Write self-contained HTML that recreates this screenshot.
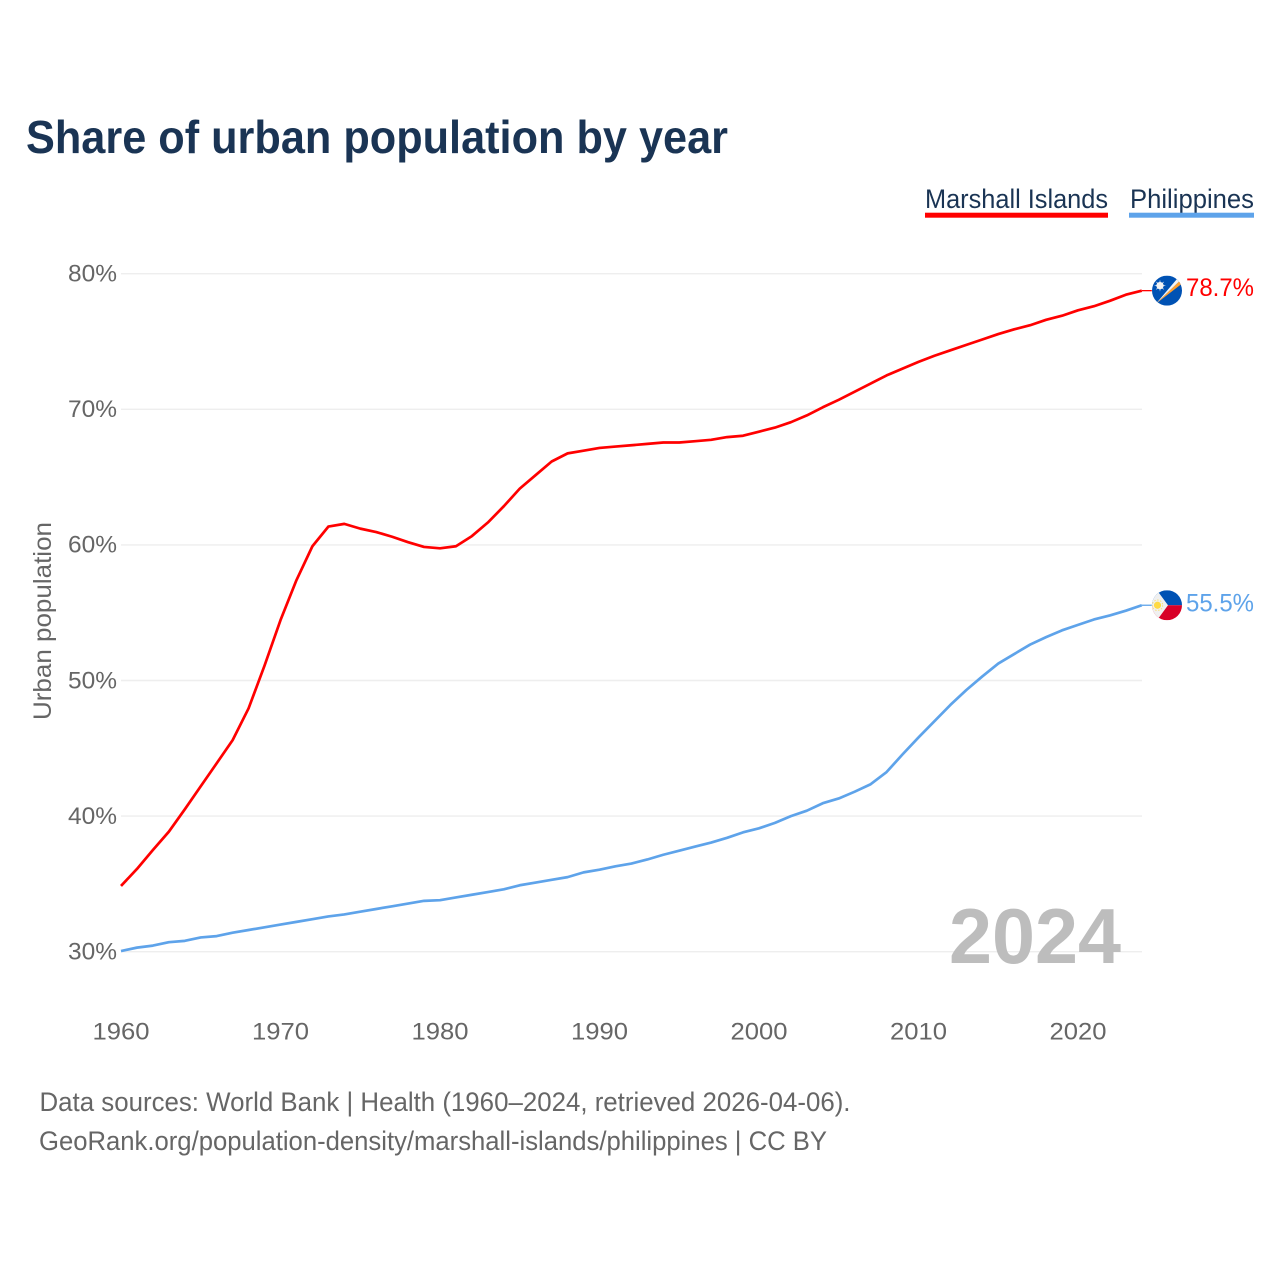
<!DOCTYPE html>
<html lang="en">
<head>
<meta charset="utf-8">
<title>Share of urban population by year</title>
<style>
html,body{margin:0;padding:0;background:#fff;}
svg{display:block;font-family:"Liberation Sans",sans-serif;}
</style>
</head>
<body>
<svg id="chart" xmlns="http://www.w3.org/2000/svg" width="1280" height="1280" viewBox="0 0 1280 1280">
  <defs>
    <clipPath id="flag-clip-a"><circle cx="0" cy="0" r="15"/></clipPath>
  </defs>
  <rect x="0" y="0" width="1280" height="1280" fill="#ffffff"/>
  <text x="26" y="153" font-size="46" font-weight="700" fill="#1a3454" textLength="702" lengthAdjust="spacingAndGlyphs">Share of urban population by year</text>

  <g>
    <g>
      <text x="925" y="208" font-size="27" fill="#1a3454" textLength="183" lengthAdjust="spacingAndGlyphs">Marshall Islands</text>
      <rect x="925" y="212.7" width="183" height="5" fill="#ff0000"/>
    </g>
    <g>
      <text x="1130" y="208" font-size="27" fill="#1a3454" textLength="124" lengthAdjust="spacingAndGlyphs">Philippines</text>
      <rect x="1129" y="212.7" width="125" height="5" fill="#5ea3ea"/>
    </g>
  </g>

  <g id="grid"></g>
  <g id="yticks"></g>
  <g id="xticks"></g>

  <text transform="translate(51 720) rotate(-90)" x="0" y="0" font-size="25" fill="#666666" textLength="198" lengthAdjust="spacingAndGlyphs">Urban population</text>

  <text x="949" y="963" font-size="78" font-weight="700" fill="#bdbdbd" textLength="172" lengthAdjust="spacingAndGlyphs">2024</text>

  <g id="series"></g>

  <g id="flag-mh">
    <g clip-path="url(#flag-clip-a)">
      <rect x="-15" y="-15" width="30" height="30" fill="#0052b4"/>
      <polygon points="-11,13 15,-12 15,-7" fill="#ffa030"/>
      <polygon points="-11,13 12,-14 15,-12" fill="#f4f4f4"/>
      <g fill="#f4f4f4" transform="translate(-7 -5)">
        <circle r="3.6"/>
        <polygon points="0,-6 1.2,0 -1.2,0"/>
        <polygon points="0,6 1.2,0 -1.2,0"/>
        <polygon points="-6,0 0,1.2 0,-1.2"/>
        <polygon points="6,0 0,1.2 0,-1.2"/>
        <polygon points="-4.2,-4.2 0.9,-0.9 -0.9,0.9"/>
        <polygon points="4.2,-4.2 0.9,0.9 -0.9,-0.9"/>
        <polygon points="-4.2,4.2 0.9,0.9 -0.9,-0.9"/>
        <polygon points="4.2,4.2 0.9,-0.9 -0.9,0.9"/>
      </g>
    </g>
  </g>
  <g id="flag-ph">
    <g clip-path="url(#flag-clip-a)">
      <rect x="-15" y="-15" width="30" height="15" fill="#0052b4"/>
      <rect x="-15" y="0" width="30" height="15" fill="#d80027"/>
      <polygon points="-15,-15 -10,-15 1,0 -10,15 -15,15" fill="#f0f0f0"/>
      <circle cx="-9.5" cy="0" r="3.6" fill="#ffda44"/>
      <circle cx="-9.5" cy="0" r="5.2" fill="none" stroke="#ffda44" stroke-width="1" stroke-dasharray="1.5 1.5" opacity="0.7"/>
    </g>
  </g>

  <text id="value-mh" x="1186" font-size="25" fill="#ff0000" textLength="68" lengthAdjust="spacingAndGlyphs">78.7%</text>
  <text id="value-ph" x="1186" font-size="25" fill="#5ea3ea" textLength="68" lengthAdjust="spacingAndGlyphs">55.5%</text>

  <text x="39.5" y="1111" font-size="27" fill="#666666" textLength="811" lengthAdjust="spacingAndGlyphs">Data sources: World Bank | Health (1960–2024, retrieved 2026-04-06).</text>
  <text x="39" y="1150" font-size="27" fill="#666666" textLength="788" lengthAdjust="spacingAndGlyphs">GeoRank.org/population-density/marshall-islands/philippines | CC BY</text>
</svg>
<script>
var firstYear = 1960;
var xTickYears = [1960, 1970, 1980, 1990, 2000, 2010, 2020];
var yTickValues = [30, 40, 50, 60, 70, 80];
var marshallIslands = [
  34.85, 36.1, 37.5, 38.85, 40.5, 42.2, 43.9, 45.6, 47.95, 51.1,
  54.45, 57.4, 59.9, 61.35, 61.55, 61.2, 60.95, 60.6, 60.2, 59.85,
  59.75, 59.9, 60.65, 61.65, 62.85, 64.15, 65.15, 66.15, 66.75, 66.95,
  67.15, 67.25, 67.35, 67.45, 67.55, 67.55, 67.65, 67.75, 67.95, 68.05,
  68.35, 68.65, 69.05, 69.55, 70.15, 70.7, 71.3, 71.9, 72.5, 73.0,
  73.5, 73.95, 74.35, 74.75, 75.15, 75.55, 75.9, 76.2, 76.6, 76.9,
  77.3, 77.6, 78.0, 78.45, 78.75
];
var philippines = [
  30.05, 30.3, 30.45, 30.7, 30.8, 31.05, 31.15, 31.4, 31.6, 31.8,
  32.0, 32.2, 32.4, 32.6, 32.75, 32.95, 33.15, 33.35, 33.55, 33.75,
  33.8, 34.0, 34.2, 34.4, 34.6, 34.9, 35.1, 35.3, 35.5, 35.85,
  36.05, 36.3, 36.5, 36.8, 37.15, 37.45, 37.75, 38.05, 38.4, 38.8,
  39.1, 39.5, 40.0, 40.4, 40.95, 41.3, 41.8, 42.35, 43.25, 44.55,
  45.8, 47.0, 48.2, 49.3, 50.3, 51.25, 51.95, 52.65, 53.2, 53.7,
  54.1, 54.5, 54.8, 55.15, 55.55
];

var NS = 'http://www.w3.org/2000/svg';
function xScale(year) { return 121 + (year - 1960) * 15.95; }
function yScale(value) { return 951.7 - (value - 30) * 13.56; }
function make(tag, attrs, parent, text) {
  var el = document.createElementNS(NS, tag);
  for (var k in attrs) { el.setAttribute(k, attrs[k]); }
  if (text !== undefined) { el.textContent = text; }
  parent.appendChild(el);
  return el;
}
var gridGroup = document.getElementById('grid');
var yTickGroup = document.getElementById('yticks');
var xTickGroup = document.getElementById('xticks');
var seriesGroup = document.getElementById('series');

yTickValues.forEach(function (v) {
  var line = make('line', {x1: 121, x2: 1142, y1: yScale(v), y2: yScale(v), stroke: '#eeeeee', 'stroke-width': 1.4}, gridGroup);
  
  
  var label = make('text', {x: 117, y: yScale(v) + 7.8, 'text-anchor': 'end', 'font-size': 24, fill: '#666666', textLength: 49, lengthAdjust: 'spacingAndGlyphs'}, yTickGroup, v + '%');
  
  
});

xTickYears.forEach(function (yr) {
  var label = make('text', {x: xScale(yr), y: 1039.5, 'text-anchor': 'middle', 'font-size': 24, fill: '#666666', textLength: 57, lengthAdjust: 'spacingAndGlyphs'}, xTickGroup, String(yr));
  
  
});

function pathFor(values) {
  return values.map(function (v, i) {
    return (i ? 'L' : 'M') + xScale(firstYear + i).toFixed(2) + ' ' + yScale(v).toFixed(2);
  }).join(' ');
}
function drawSeries(values, color, name, flagId, labelId, labelOffset) {
  var lastX = xScale(firstYear + values.length - 1);
  var lastY = yScale(values[values.length - 1]);
  var leader = make('line', {x1: lastX, x2: lastX + 10, y1: lastY, y2: lastY, stroke: color, 'stroke-width': 1.3}, seriesGroup);
  
  
  var path = make('path', {d: pathFor(values), fill: 'none', stroke: color, 'stroke-width': 2.7, 'stroke-linejoin': 'round'}, seriesGroup);
  
  
  document.getElementById(flagId).setAttribute('transform', 'translate(1167 ' + lastY.toFixed(2) + ')');
  var label = document.getElementById(labelId);
  label.setAttribute('y', (lastY + labelOffset).toFixed(2));
}
drawSeries(marshallIslands, '#ff0000', 'line-marshall-islands', 'flag-mh', 'value-mh', 5.2);
drawSeries(philippines, '#5ea3ea', 'line-philippines', 'flag-ph', 'value-ph', 6.2);
</script>
</body>
</html>
